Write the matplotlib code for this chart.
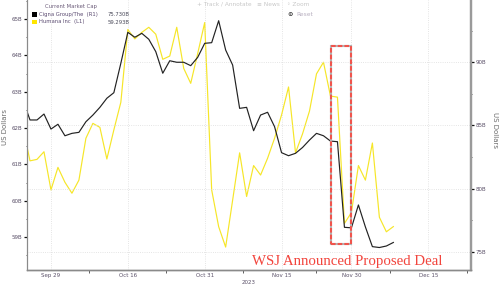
import numpy as np
import pandas as pd
import matplotlib
matplotlib.use("Agg")
import matplotlib.pyplot as plt
from matplotlib.patches import Rectangle

# trading calendar (NYSE closed on Thanksgiving)
cal = pd.bdate_range("2023-09-25", "2023-12-29")
cal = cal.drop(pd.Timestamp("2023-11-23"))

# market cap, billions USD, Sep 25 .. Dec 8 2023
cigna = [87.0, 85.43, 85.43, 85.90, 84.71, 85.09, 84.18, 84.37, 84.45, 85.29,
         85.82, 86.43, 87.15, 87.59, 89.92, 92.37, 91.98, 92.29, 91.82, 90.84,
         89.13, 90.12, 90.00, 90.00, 89.73, 90.39, 91.50, 91.55, 93.29, 90.97,
         89.78, 86.35, 86.43, 84.58, 85.82, 86.04, 84.90, 82.84, 82.60, 82.79,
         83.25, 83.84, 84.37, 84.18, 83.76, 83.71, 76.93, 76.89, 78.70, 76.96,
         75.40, 75.33, 75.45, 75.73]
humana = [62.0, 61.10, 61.14, 61.35, 60.30, 60.92, 60.51, 60.21, 60.57, 61.72,
          62.13, 62.02, 61.15, 61.95, 62.71, 64.71, 64.45, 64.63, 64.77, 64.58,
          63.89, 63.98, 64.77, 63.64, 63.23, 64.05, 64.90, 60.30, 59.29, 58.73,
          60.02, 61.32, 60.12, 60.97, 60.71, 61.17, 61.72, 62.36, 63.13, 61.32,
          61.84, 62.47, 63.49, 63.81, 62.88, 62.85, 59.38, 59.68, 60.97, 60.57,
          61.59, 59.55, 59.15, 59.293]
tick_dates = ["2023-09-29", "2023-10-16", "2023-10-31", "2023-11-15",
              "2023-11-30", "2023-12-15"]
left_ticks = [59, 60, 61, 62, 63, 64, 65]
right_ticks = [75, 80, 85, 90]

x = np.arange(len(cigna))
tick_pos = [cal.get_loc(pd.Timestamp(d)) for d in tick_dates]
tick_lab = [pd.Timestamp(d).strftime("%b ") + str(pd.Timestamp(d).day) for d in tick_dates]
minor_pos = [(a + b) / 2 for a, b in zip(tick_pos, tick_pos[1:])]
minor_pos.append(tick_pos[-1] + 5.5)

fig = plt.figure(figsize=(5, 2.88), dpi=100)
ax = fig.add_axes([0.054, 0.0625, 0.8874, 0.9375])
ax2 = ax.twinx()

lab_col = "#5a5068"
spine_col = "#8a8a8a"

ax.plot(x, humana, color="#f6e628", lw=0.85)
ax2.plot(x, cigna, color="#222222", lw=0.85)

ax.set_xlim(0.57, 64.07)
ax.set_ylim(58.10, 65.52)
ax2.set_ylim(73.55, 94.93)

ax.set_xticks(tick_pos)
ax.set_xticklabels(tick_lab)
ax.set_xticks(minor_pos, minor=True)
ax.set_yticks(left_ticks)
ax.set_yticklabels([f"{v}B" for v in left_ticks])
ax.set_yticks(np.arange(58.5, 65.6, 0.5), minor=True)
ax2.set_yticks(right_ticks)
ax2.set_yticklabels([f"{v}B" for v in right_ticks])
ax2.set_yticks(np.arange(75, 95, 2.5), minor=True)

ax.tick_params(axis="x", which="major", length=0, pad=2, labelsize=4, labelcolor=lab_col)
ax.tick_params(axis="x", which="minor", length=2, width=0.6, color="#444444")
ax.tick_params(axis="y", which="major", length=2.2, width=0.9, pad=1, labelsize=4,
               labelcolor=lab_col, color="#111111")
ax.tick_params(axis="y", which="minor", length=1, width=0.6, color="#444444")
ax2.tick_params(axis="y", which="major", length=2.2, width=0.9, pad=1, labelsize=4,
                labelcolor=lab_col, color="#111111")
ax2.tick_params(axis="y", which="minor", length=1, width=0.6, color="#444444")

ax.grid(axis="x", which="major", color="#dcdcdc", ls=":", lw=0.6)
ax2.grid(axis="y", which="major", color="#dcdcdc", ls=":", lw=0.6)
ax.set_axisbelow(True)
ax2.set_axisbelow(True)

for a in (ax, ax2):
    a.spines["top"].set_visible(False)
    a.spines["left"].set_color(spine_col)
    a.spines["left"].set_linewidth(0.8)
    a.spines["bottom"].set_color(spine_col)
    a.spines["bottom"].set_linewidth(1.0)
    a.spines["right"].set_color("#9a9a9a")
    a.spines["right"].set_linewidth(1.6)

ax.set_ylabel("US Dollars", fontsize=5, color="#6a6a6a")
ax.yaxis.set_label_coords(-0.043, 0.53)
ax2.set_ylabel("US Dollars", fontsize=5, color="#6a6a6a", rotation=270, va="center")
ax2.yaxis.set_label_coords(1.055, 0.52)
ax.text(0.5, -0.038, "2023", transform=ax.transAxes, ha="center", va="top",
        fontsize=4, color=lab_col)

# highlighted deal-news window
box = dict(xy=(44.08, 75.61), width=2.82, height=15.68, fill=False, zorder=5)
ax2.add_patch(Rectangle(**box, edgecolor="#b4b4b4", lw=1.5))
ax2.add_patch(Rectangle(**box, edgecolor="#f0544c", lw=1.5, ls=(0, (2.2, 1))))

ax.text(0.507, 0.03, "WSJ Announced Proposed Deal", transform=ax.transAxes,
        ha="left", va="center", fontsize=10.7, color="#f2453d",
        family=["Liberation Serif", "DejaVu Serif"])

# legend block
narrow = ["Liberation Sans Narrow", "DejaVu Sans"]
fig.text(71 / 500, 1 - 6.7 / 288, "Current Market Cap", ha="center", va="center",
         fontsize=3.8, color="#6a5a78", family=narrow)
rows = [("Cigna Group/The  (R1)", cigna[-1], "#000000", 14.5),
        ("Humana Inc  (L1)", humana[-1], "#ffe600", 22.0)]
for name, val, col, yp in rows:
    fig.add_artist(Rectangle((32 / 500, 1 - (yp + 2) / 288), 4.5 / 500, 4.5 / 288,
                             transform=fig.transFigure, facecolor=col, edgecolor="none"))
    fig.text(39 / 500, 1 - yp / 288, name, ha="left", va="center",
             fontsize=3.8, color="#5a4a70", family=narrow)
    fig.text(130 / 500, 1 - yp / 288, f"{val:.3f}B", ha="right", va="center",
             fontsize=3.8, color="#4a4a5a", family=narrow)

# chart toolbar
tool_col = "#c8c8c8"
for tx, label in [(197, "+ Track"), (221, "/ Annotate"), (257, "\u2261 News"), (287, "\u25e6 Zoom")]:
    fig.text(tx / 500, 1 - 4.5 / 288, label, ha="left", va="center", fontsize=4.2, color=tool_col)
fig.text(287 / 500, 1 - 14 / 288, "\u2299", ha="left", va="center", fontsize=4.5,
         color="#222222", fontweight="bold")
fig.text(296 / 500, 1 - 14 / 288, "Reset", ha="left", va="center", fontsize=4.2, color="#b8b0c0")

fig.savefig("out.png", dpi=100)
